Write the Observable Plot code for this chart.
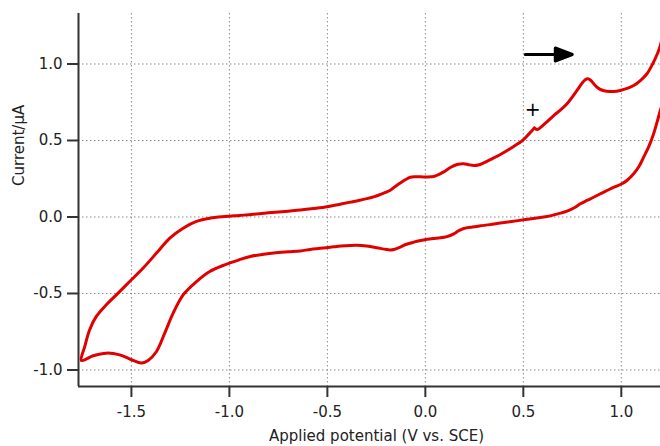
<!DOCTYPE html>
<html>
<head>
<meta charset="utf-8">
<script src="https://cdn.jsdelivr.net/npm/d3@7"></script>
<script src="https://cdn.jsdelivr.net/npm/@observablehq/plot@0.6"></script>
<style>
  html, body { margin: 0; padding: 0; background: #fff; }
  #chart svg { display: block; }
</style>
</head>
<body>
<div id="chart"></div>
<script>
// Cyclic voltammogram, traced in scan order (start at "+", scan positive first)
const potential = [
  0.556, 0.570, 0.610, 0.655, 0.690, 0.723, 0.774, 0.800, 0.816, 0.830, 0.842, 0.876, 0.900, 0.927, 0.960, 0.995, 1.030, 1.063, 1.100, 1.131, 1.160, 1.185, 1.199, 1.240,
  1.240, 1.199, 1.165, 1.140, 1.114, 1.090, 1.063, 1.030, 1.003, 0.960, 0.927, 0.893, 0.859, 0.825, 0.791, 0.760, 0.723, 0.680, 0.621, 0.560, 0.502, 0.440, 0.383, 0.330, 0.281, 0.240, 0.196, 0.170, 0.145, 0.110, 0.077, 0.040, 0.009, -0.030, -0.060, -0.100, -0.128, -0.160, -0.179, -0.210, -0.247, -0.300, -0.350, -0.383, -0.430, -0.468, -0.536, -0.587, -0.638, -0.700, -0.774, -0.833, -0.893, -0.950, -1.024, -1.100, -1.168, -1.236, -1.287, -1.330, -1.372, -1.415, -1.449, -1.500, -1.560, -1.628, -1.695, -1.755,
  -1.738, -1.713, -1.679, -1.628, -1.577, -1.509, -1.440, -1.372, -1.304, -1.236, -1.168, -1.100, -1.024, -0.950, -0.900, -0.800, -0.700, -0.638, -0.570, -0.500, -0.440, -0.383, -0.340, -0.298, -0.260, -0.230, -0.200, -0.179, -0.150, -0.128, -0.100, -0.077, -0.050, -0.009, 0.020, 0.043, 0.070, 0.094, 0.130, 0.162, 0.196, 0.220, 0.247, 0.270, 0.298, 0.340, 0.383, 0.440, 0.498, 0.530, 0.545, 0.556
];
const current = [
  0.582, 0.572, 0.610, 0.663, 0.700, 0.740, 0.827, 0.875, 0.897, 0.903, 0.895, 0.848, 0.830, 0.822, 0.820, 0.827, 0.840, 0.859, 0.895, 0.936, 1.000, 1.070, 1.120, 1.320,
  0.880, 0.696, 0.544, 0.460, 0.391, 0.330, 0.282, 0.240, 0.217, 0.193, 0.173, 0.152, 0.129, 0.108, 0.086, 0.060, 0.038, 0.022, 0.003, -0.008, -0.018, -0.030, -0.040, -0.050, -0.058, -0.065, -0.075, -0.090, -0.110, -0.128, -0.136, -0.140, -0.145, -0.155, -0.165, -0.180, -0.197, -0.212, -0.215, -0.210, -0.201, -0.190, -0.185, -0.186, -0.190, -0.195, -0.205, -0.212, -0.222, -0.228, -0.236, -0.245, -0.258, -0.280, -0.313, -0.356, -0.422, -0.509, -0.629, -0.759, -0.879, -0.938, -0.955, -0.933, -0.901, -0.890, -0.907, -0.938,
  -0.846, -0.737, -0.650, -0.574, -0.509, -0.422, -0.334, -0.236, -0.138, -0.073, -0.029, -0.008, 0.003, 0.010, 0.015, 0.027, 0.038, 0.045, 0.055, 0.067, 0.082, 0.097, 0.108, 0.120, 0.133, 0.147, 0.162, 0.175, 0.203, 0.222, 0.245, 0.260, 0.263, 0.262, 0.262, 0.265, 0.278, 0.295, 0.325, 0.343, 0.348, 0.342, 0.337, 0.340, 0.354, 0.380, 0.408, 0.452, 0.502, 0.545, 0.565, 0.582
];

const xTicks = [-1.5, -1.0, -0.5, 0.0, 0.5, 1.0];
const yTicks = [-1.0, -0.5, 0.0, 0.5, 1.0];
const xDomain = [-1.77, 1.20];
const yDomain = [-1.108, 1.33];

// annotations: scan-direction arrow and start marker
const arrowX = [0.51];
const arrowY = [1.062];
const startX = [0.548];
const startY = [0.703];

const xLabel = "Applied potential (V vs. SCE)";
const yLabel = "Current/\u03BCA";

const cv = potential.map((p, i) => ({E: p, I: current[i]}));

const arrowShape = {
  draw(context, l) {
    const head = 17, w = 6.5;
    context.moveTo(0, 0);
    context.lineTo(0, -l + head);
    context.moveTo(-w, -l + head);
    context.lineTo(0, -l);
    context.lineTo(w, -l + head);
    context.closePath();
  }
};

const ink = "#222";
const fmt = d => d.toFixed(1);

const chart = Plot.plot({
  width: 660,
  height: 446,
  marginLeft: 78,
  marginRight: 0,
  marginTop: 13,
  marginBottom: 60,
  style: {fontFamily: "'DejaVu Sans', sans-serif", fontSize: "15px", background: "#fff", color: ink},
  x: {domain: xDomain},
  y: {domain: yDomain},
  marks: [
    Plot.gridX(xTicks, {stroke: "#8a8a8a", strokeOpacity: 1, strokeDasharray: "1.5,2.5", strokeWidth: 1}),
    Plot.gridY(yTicks, {stroke: "#8a8a8a", strokeOpacity: 1, strokeDasharray: "1.5,2.5", strokeWidth: 1}),
    Plot.line(cv, {x: "E", y: "I", stroke: "#e00000", strokeWidth: 3, curve: "catmull-rom", clip: true, strokeLinejoin: "round"}),
    Plot.ruleX([xDomain[0]], {stroke: "#333", strokeWidth: 2}),
    Plot.ruleY([yDomain[0]], {stroke: "#333", strokeWidth: 2}),
    Plot.axisX(xTicks, {tickSize: 11, tickPadding: 9, strokeWidth: 2, stroke: "#333", fill: ink, tickFormat: fmt, label: null, fontSize: 15}),
    Plot.axisY(yTicks, {tickSize: 11, tickPadding: 5, strokeWidth: 2, stroke: "#333", fill: ink, tickFormat: fmt, label: null, fontSize: 15}),
    Plot.vector(arrowX.map((x, i) => ({x, y: arrowY[i]})), {x: "x", y: "y", length: 47, rotate: 90, anchor: "start", shape: arrowShape, stroke: "#000", fill: "#000", strokeWidth: 3}),
    Plot.text(startX.map((x, i) => ({x, y: startY[i]})), {x: "x", y: "y", text: () => "+", fontSize: 19, fill: "#000"}),
    Plot.text([xLabel], {frameAnchor: "bottom", text: d => d, dy: 50, dx: 7, lineAnchor: "middle", fontSize: 15, fill: ink}),
    Plot.text([yLabel], {frameAnchor: "left", text: d => d, rotate: -90, dx: -59, dy: -14, lineAnchor: "middle", fontSize: 15, fill: ink})
  ]
});

document.getElementById("chart").appendChild(chart);
</script>
</body>
</html>
